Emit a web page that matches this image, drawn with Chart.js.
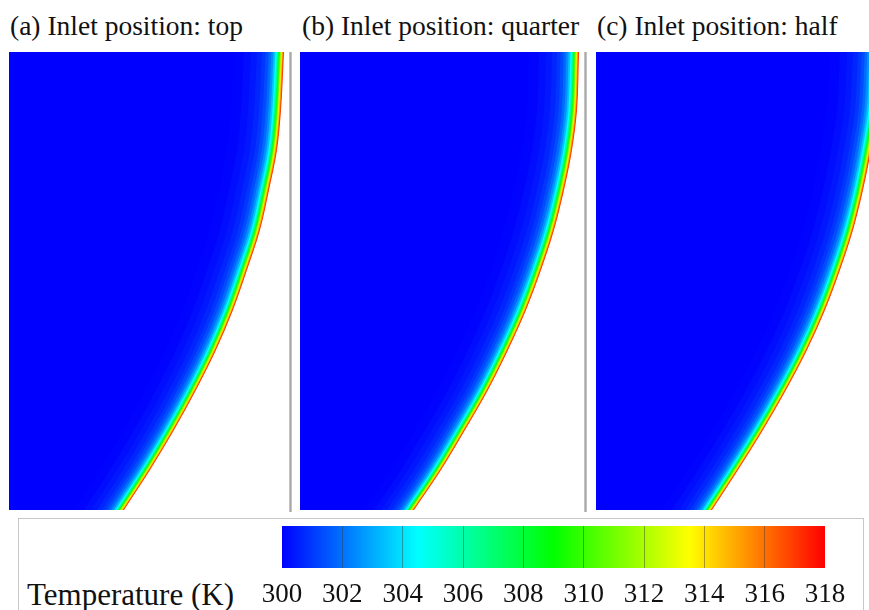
<!DOCTYPE html>
<html>
<head>
<meta charset="utf-8">
<title>Inlet position temperature contours</title>
<script src="https://cdn.jsdelivr.net/npm/chart.js@4.4.1/dist/chart.umd.min.js"></script>
<style>
  body { margin: 0; background: #fff; }
  #page { position: relative; width: 869px; height: 610px; overflow: hidden;
          font-family: "Liberation Serif", Tinos, "DejaVu Serif", serif; color: #111; }
  .title { position: absolute; top: 12px; font-size: 27.5px; line-height: 27px; white-space: nowrap; }
  .panel { position: absolute; top: 52px; }
  .sep { position: absolute; top: 52px; width: 3px; height: 460px;
         background: linear-gradient(90deg, #d0d0d0, #a8a8a8, #d0d0d0); }
  #legendBox { position: absolute; left: 18px; top: 518px; width: 844px; height: 120px;
               border: 1px solid #c8c8c8; }
  #legendTitle { position: absolute; left: 27px; top: 579px; font-size: 31px; line-height: 31px; white-space: nowrap; }
  #bar { position: absolute; left: 242px; top: 526px; }
</style>
</head>
<body>
<div id="page">
  <div class="title" style="left:10px">(a) Inlet position: top</div>
  <div class="title" style="left:302px">(b) Inlet position: quarter</div>
  <div class="title" style="left:597px">(c) Inlet position: half</div>

  <canvas id="panelA" class="panel" style="left:9px" width="281" height="458"></canvas>
  <canvas id="panelB" class="panel" style="left:300px" width="281" height="458"></canvas>
  <canvas id="panelC" class="panel" style="left:596px" width="273" height="458"></canvas>
  <div class="sep" style="left:289px"></div>
  <div class="sep" style="left:584px"></div>

  <div id="legendBox"></div>
  <div id="legendTitle">Temperature (K)</div>
  <canvas id="bar" width="623" height="84"></canvas>
</div>

<script>
// height above the bottom of the section (mm)
const heights = [0, 20, 40, 60, 80, 100, 120, 140, 160, 180, 200, 229];
// radial position of the heated wall (mm from the left edge of each panel)
const wallA = [57.5, 70.5, 82.5, 93.5, 103.5, 112, 119, 125.5, 130, 134, 136, 137.5];
const wallB = [57, 70.5, 82.5, 94, 104, 113, 120.5, 127, 132, 136, 138.5, 139.5];
const wallC = [58, 71, 83.5, 95, 105.5, 114.5, 122, 128.5, 133.5, 137.5, 140.5, 142];
// temperature across the thermal boundary layer, by distance in from the wall (mm)
const layerDist = [0, 0.4, 0.8, 1.2, 1.6, 2.0, 2.5, 3.0, 3.6, 4.3, 5.2, 6.3, 7.6, 9.2, 11, 13.5, 16.5, 20, 25];
const layerTemp = [318, 316.5, 315, 313.5, 312, 310.5, 309, 307, 305.3, 304, 303, 302.2, 301.6, 301.1, 300.8, 300.5, 300.3, 300.15, 300];
// colour bar
const tempTicks = [300, 302, 304, 306, 308, 310, 312, 314, 316, 318];
const tMin = 300, tMax = 318;

Chart.defaults.font.family = '"Liberation Serif", Tinos, "DejaVu Serif", serif';
Chart.defaults.color = '#111';

// rainbow map: blue -> cyan -> green -> yellow -> red
function tempColor(t) {
  let f = (t - tMin) / (tMax - tMin);
  f = Math.min(1, Math.max(0, f));
  let r = 0, g = 0, b = 0;
  if (f < 0.25) { g = f / 0.25; b = 1; }
  else if (f < 0.5) { g = 1; b = 1 - (f - 0.25) / 0.25; }
  else if (f < 0.75) { r = (f - 0.5) / 0.25; g = 1; }
  else { r = 1; g = 1 - (f - 0.75) / 0.25; }
  return 'rgb(' + Math.round(r * 255) + ',' + Math.round(g * 255) + ',' + Math.round(b * 255) + ')';
}

function drawPanel(id, wall, rMax) {
  const n = layerDist.length;
  const datasets = [];
  // innermost curve first so it is painted last (on top)
  for (let j = 0; j < n; j++) {
    const k = n - 1 - j;
    const t = j === 0 ? layerTemp[k] : (layerTemp[k] + layerTemp[k + 1]) / 2;
    datasets.push({
      data: heights.map((z, i) => ({ x: wall[i] - layerDist[k], y: z })),
      backgroundColor: tempColor(t),
      borderWidth: 0,
      pointRadius: 0,
      fill: { value: 0 },
      cubicInterpolationMode: 'monotone'
    });
  }
  new Chart(document.getElementById(id), {
    type: 'line',
    data: { datasets },
    options: {
      indexAxis: 'y',
      responsive: false,
      animation: false,
      events: [],
      layout: { padding: 0 },
      plugins: { legend: { display: false }, tooltip: { enabled: false } },
      scales: {
        x: { type: 'linear', min: 0, max: rMax, display: false },
        y: { type: 'linear', min: 0, max: heights[heights.length - 1], display: false }
      }
    }
  });
}

drawPanel('panelA', wallA, 140.5);
drawPanel('panelB', wallB, 140.5);
drawPanel('panelC', wallC, 136.5);

new Chart(document.getElementById('bar'), {
  type: 'bar',
  data: {
    labels: ['T'],
    datasets: [{
      data: [[tMin, tMax]],
      barPercentage: 1,
      categoryPercentage: 1,
      borderWidth: 0,
      backgroundColor: (ctx) => {
        const area = ctx.chart.chartArea;
        if (!area) return tempColor(tMin);
        const g = ctx.chart.ctx.createLinearGradient(area.left, 0, area.right, 0);
        for (let t = tMin; t <= tMax; t += 0.5) {
          g.addColorStop((t - tMin) / (tMax - tMin), tempColor(t));
        }
        return g;
      }
    }]
  },
  options: {
    indexAxis: 'y',
    responsive: false,
    animation: false,
    events: [],
    layout: { padding: { left: 40, right: 40, top: 0, bottom: 0 } },
    plugins: { legend: { display: false }, tooltip: { enabled: false } },
    scales: {
      x: {
        type: 'linear', min: tMin, max: tMax,
        afterBuildTicks: (axis) => { axis.ticks = tempTicks.map(v => ({ value: v })); },
        border: { display: false },
        grid: {
          z: 1, drawTicks: false, lineWidth: 1,
          color: (c) => (c.tick && (c.tick.value === tMin || c.tick.value === tMax)) ? 'rgba(0,0,0,0)' : 'rgba(60,60,60,0.45)'
        },
        ticks: { padding: 11, font: { size: 27 }, color: '#111', maxRotation: 0 }
      },
      y: { display: false }
    }
  }
});
</script>
</body>
</html>
